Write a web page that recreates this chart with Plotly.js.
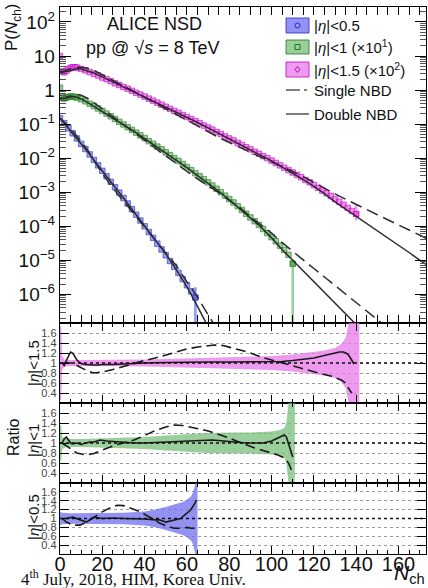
<!DOCTYPE html>
<html><head><meta charset="utf-8">
<script src="https://cdn.plot.ly/plotly-3.0.1.min.js"></script>
<style>html,body{margin:0;padding:0;background:#fff;}#chart{width:428px;height:588px;}</style>
</head><body><div id="chart"></div>
<script>
// ---------------- data: P(Nch) (as plotted, with legend scale factors) ----------------
const nEta05 = [0,2,4,6,8,10,12,14,16,18,20,22,24,26,28,30,32,34,36,38,40,42,44,46,48,50,52,54,56,58,60,62,64];
const pEta05 = [0.151,0.107,7.59e-2,5.37e-2,3.80e-2,2.63e-2,1.86e-2,1.29e-2,8.91e-3,6.17e-3,4.27e-3,2.95e-3,2.04e-3,1.41e-3,9.77e-4,6.76e-4,4.68e-4,3.16e-4,2.19e-4,1.48e-4,1.00e-4,6.76e-5,4.57e-5,3.09e-5,2.09e-5,1.41e-5,9.55e-6,6.46e-6,4.27e-6,2.82e-6,1.86e-6,1.23e-6,8.13e-7];

const nEta1 = [0,1,2,3,4,5,6,7,8,10,12,14,16,18,20,22,24,26,28,30,32,34,36,38,40,42,44,46,48,50,52,54,56,58,60,62,64,66,68,70,72,74,76,78,80,82,84,86,88,90,92,94,96,98,100,102,104,106,108,110];
const pEta1x10 = [1.17,0.631,0.562,0.603,0.631,0.646,0.646,0.631,0.603,0.537,0.468,0.398,0.339,0.288,0.245,0.204,0.170,0.141,0.117,9.77e-2,8.13e-2,6.76e-2,5.62e-2,4.68e-2,3.89e-2,3.16e-2,2.63e-2,2.19e-2,1.82e-2,1.48e-2,1.23e-2,1.00e-2,8.32e-3,6.76e-3,5.50e-3,4.47e-3,3.63e-3,2.95e-3,2.40e-3,1.95e-3,1.58e-3,1.26e-3,1.00e-3,7.94e-4,6.31e-4,5.01e-4,3.89e-4,3.02e-4,2.34e-4,1.82e-4,1.41e-4,1.10e-4,8.32e-5,6.31e-5,4.79e-5,3.63e-5,2.69e-5,2.00e-5,1.45e-5,7.94e-6];

const nEta15 = [0,1,2,3,4,5,6,7,8,10,12,14,16,18,20,22,24,26,28,30,32,34,36,38,40,42,44,46,48,50,52,54,56,58,60,62,64,66,68,70,72,74,76,78,80,82,84,86,88,90,92,94,96,98,100,102,104,106,108,110,112,114,116,118,120,122,124,126,128,130,132,134,136,138,140];
const pEta15x100 = [10,3.55,3.31,3.72,4.17,4.47,4.68,4.68,4.57,4.17,3.80,3.39,3.02,2.69,2.34,2.09,1.82,1.58,1.41,1.23,1.10,0.955,0.832,0.741,0.646,0.562,0.490,0.427,0.372,0.324,0.282,0.245,0.214,0.186,0.162,0.141,0.123,0.107,9.12e-2,7.94e-2,6.92e-2,5.89e-2,5.13e-2,4.37e-2,3.80e-2,3.31e-2,2.82e-2,2.45e-2,2.09e-2,1.82e-2,1.55e-2,1.35e-2,1.15e-2,1.00e-2,8.51e-3,7.24e-3,6.17e-3,5.25e-3,4.47e-3,3.80e-3,3.24e-3,2.75e-3,2.29e-3,1.95e-3,1.62e-3,1.35e-3,1.12e-3,9.33e-4,7.76e-4,6.31e-4,5.25e-4,4.27e-4,3.47e-4,2.82e-4,2.29e-4];

// last-point uncertainty (|eta|<0.5, <1, <1.5)
const endN = [64, 110, 140];
const endP = [8.13e-7, 7.94e-6, 2.29e-4];
const endErrUp = [8.0e-7, 3.0e-6, 1.9e-4];
const endErrDown = [6.6e-7, 7.8e-6, 0.8e-4];

// ---------------- NBD fits ----------------
const fitN = [0,2,4,6,8,10,13,16,20,25,30,35,40,45,50,55,60,65,70,75,80,85,90,95,100,105,110,115,120,125,130,135,140,145,150,155,160,165,170,173];
const singleEta15 = [3.16,3.63,4.07,4.47,4.68,4.68,4.37,3.80,2.82,1.95,1.32,0.891,0.617,0.417,0.282,0.186,0.126,8.71e-2,5.89e-2,4.07e-2,2.88e-2,2.09e-2,1.51e-2,1.12e-2,8.13e-3,5.75e-3,4.07e-3,2.88e-3,2.00e-3,1.32e-3,8.91e-4,6.17e-4,4.37e-4,3.09e-4,2.19e-4,1.55e-4,1.10e-4,7.76e-5,5.50e-5,4.47e-5];
const doubleEta15 = [3.55,3.47,3.63,3.98,4.27,4.17,3.72,3.16,2.45,1.74,1.26,0.891,0.646,0.457,0.324,0.224,0.158,0.112,7.76e-2,5.37e-2,3.72e-2,2.57e-2,1.78e-2,1.23e-2,8.32e-3,5.50e-3,3.63e-3,2.34e-3,1.48e-3,9.12e-4,5.25e-4,3.24e-4,2.00e-4,1.23e-4,7.41e-5,4.57e-5,2.75e-5,1.70e-5,1.02e-5,7.59e-6];
const singleEta1 = [0.562,0.603,0.676,0.724,0.741,0.708,0.575,0.427,0.288,0.166,9.77e-2,5.75e-2,3.31e-2,1.91e-2,1.12e-2,6.76e-3,4.07e-3,2.45e-3,1.58e-3,9.77e-4,5.75e-4,3.55e-4,1.91e-4,1.10e-4,6.31e-5,3.31e-5,1.82e-5,1.02e-5,5.75e-6,3.24e-6,1.82e-6,1.02e-6,5.75e-7,3.24e-7,1.82e-7,1.02e-7];
const doubleEta1 = [0.562,0.562,0.603,0.646,0.617,0.550,0.437,0.331,0.234,0.151,9.55e-2,6.17e-2,3.80e-2,2.34e-2,1.45e-2,8.71e-3,5.25e-3,3.09e-3,1.86e-3,1.07e-3,6.03e-4,3.31e-4,1.78e-4,9.55e-5,4.57e-5,2.04e-5,1.00e-5,4.90e-6,2.34e-6,1.15e-6,5.50e-7,2.69e-7,1.29e-7,6.31e-8];
const singleEta05 = [0.151,0.117,8.71e-2,6.31e-2,4.47e-2,3.09e-2,1.74e-2,8.71e-3,3.55e-3,1.32e-3,5.50e-4,2.29e-4,9.55e-5,4.07e-5,1.74e-5,6.92e-6,2.34e-6,8.32e-7,2.51e-7,7.94e-8];
const doubleEta05 = [0.151,0.110,7.59e-2,5.25e-2,3.72e-2,2.69e-2,1.58e-2,8.71e-3,4.27e-3,1.70e-3,6.76e-4,2.63e-4,1.00e-4,3.80e-5,1.55e-5,5.25e-6,1.66e-6,4.47e-7,1.12e-7];

// ---------------- ratios data / fit ----------------
const rDblN15 = [1,2,3,4,5,6,7,8,9,10,12,14,16,18,20,25,30,35,40,50,60,70,80,90,100,105,110,115,120,125,128,130,132,134,136,137,138,139];
const rDbl15 = [1.0,0.95,1.05,1.15,1.22,1.2,1.12,1.06,1.02,0.99,0.97,0.96,0.96,0.96,0.97,0.97,0.98,1.0,1.0,1.01,1.02,1.02,1.02,1.02,1.03,1.03,1.05,1.07,1.1,1.15,1.18,1.2,1.22,1.22,1.18,1.12,1.04,0.98];
const rSglN15 = [1,3,6,8,10,13,16,20,25,30,35,40,45,50,54,60,65,70,73,77,82,86,90,95,100,104,108,112,116,120,124,128,131,133,135,136,137,138];
const rSgl15 = [1.0,1.0,1.0,0.95,0.9,0.84,0.8,0.82,0.87,0.93,1.0,1.05,1.1,1.16,1.22,1.28,1.32,1.35,1.36,1.35,1.3,1.25,1.2,1.12,1.06,1.02,0.97,0.92,0.87,0.82,0.78,0.74,0.7,0.66,0.6,0.52,0.45,0.4];
const bandN15 = [0,0.6,1,2,5,10,20,30,40,50,60,70,80,90,100,110,120,125,130,133,135,136.5,138,140,141.5];
const bandErr15 = [0.75,0.75,0.15,0.07,0.06,0.06,0.07,0.07,0.07,0.08,0.09,0.1,0.11,0.12,0.14,0.17,0.22,0.25,0.3,0.38,0.5,0.8,0.8,0.8,0.8];

const rDblN1 = [1,2,3,4,5,6,8,10,12,14,16,19,22,25,30,35,40,50,60,72,80,88,96,100,102,104,106,107,108,109,110];
const rDbl1 = [1.0,1.08,1.12,1.05,1.0,0.98,1.0,0.97,1.0,1.02,1.02,1.06,1.04,1.03,1.01,1.0,1.0,1.02,1.04,1.06,1.03,1.0,1.0,1.04,1.08,1.12,1.16,1.12,1.0,0.85,0.72];
const rSglN1 = [1,4,8,12.5,16,20,23.5,27,30,35,40,45,50,54,58,62,66,70,73,77,80,84,88,92,96,100,103,106,108,109,110];
const rSgl1 = [1.0,0.92,0.8,0.76,0.79,0.86,0.92,0.97,1.0,1.06,1.15,1.25,1.32,1.36,1.35,1.32,1.28,1.24,1.2,1.14,1.1,1.03,0.96,0.9,0.85,0.8,0.76,0.7,0.6,0.5,0.4];
const bandN1 = [0,0.6,1,3,10,20,30,40,50,60,70,80,90,100,104,106,107,108,109,110,111];
const bandErr1 = [0.35,0.35,0.12,0.08,0.08,0.09,0.1,0.12,0.15,0.18,0.2,0.21,0.21,0.23,0.26,0.3,0.4,0.8,0.8,0.8,0.8];

const rDblN05 = [1,3,6,8,10,12.5,14,16,20,25,30,35,40,45,47,50,53,57,59,61.5,63,64.6];
const rDbl05 = [1.0,1.0,1.03,1.0,0.97,0.92,0.97,1.03,1.0,1.01,1.0,1.0,0.99,0.97,0.97,0.92,0.95,1.0,1.08,1.18,1.28,1.42];
const rSglN05 = [1,3,6,9.5,13,16,20,24,27,30,34,38,42,47,50,54,57,60,62,64.6];
const rSgl05 = [1.0,0.92,0.85,0.85,0.93,1.03,1.15,1.25,1.3,1.29,1.22,1.15,1.04,0.9,0.84,0.78,0.78,0.8,0.78,0.78];
const bandN05 = [0,1,5,10,20,30,40,45,50,55,58,60,62,63,64,65];
const bandErr05 = [0.15,0.13,0.12,0.12,0.12,0.13,0.16,0.2,0.26,0.32,0.37,0.42,0.5,0.6,0.8,0.8];

// ---------------- tick labels ----------------
const logTickVals = [1e-6,1e-5,1e-4,1e-3,1e-2,1e-1,1,10,100];
const logTickText = ['10<sup>\u22126</sup>','10<sup>\u22125</sup>','10<sup>\u22124</sup>','10<sup>\u22123</sup>','10<sup>\u22122</sup>','10<sup>\u22121</sup>','1','10','10<sup>2</sup>'];
const ratioTickVals = [0.4,0.6,0.8,1.0,1.2,1.4,1.6];
const ratioTickText = ['0.4','0.6','0.8','1','1.2','1.4','1.6'];

// ---------------- styling ----------------
const FONT = 'Liberation Sans, Arial, Helvetica, sans-serif';
const colBlue = {fill:'rgba(95,95,235,0.6)', line:'#2a2acb', band:'rgba(110,110,238,0.75)'};
const colGreen = {fill:'rgba(70,160,70,0.55)', line:'#1f7a1f', band:'rgba(120,190,120,0.75)'};
const colMag = {fill:'rgba(232,70,232,0.6)', line:'#c400c4', band:'rgba(232,120,232,0.75)'};
const fitColor = '#2b2b2b';

const traces = [];
function dataTrace(x, y, c, sym){
  return {x:x, y:y, xaxis:'x', yaxis:'y', type:'scatter', mode:'markers', showlegend:false, hoverinfo:'skip',
    marker:{symbol:sym, size:5.5, color:c.fill, line:{color:c.line, width:0.6}}};
}
traces.push(dataTrace(nEta05, pEta05, colBlue, 'square'));
traces.push(dataTrace(nEta1, pEta1x10, colGreen, 'square'));
traces.push(dataTrace(nEta15, pEta15x100, colMag, 'square'));
[colBlue, colGreen, colMag].forEach((c,i)=>{
  traces.push({x:[endN[i]], y:[endP[i]], xaxis:'x', yaxis:'y', type:'scatter', mode:'markers', showlegend:false, hoverinfo:'skip',
    marker:{size:5, symbol:'square', color:c.fill, line:{color:c.line,width:0.6}},
    error_y:{type:'data', symmetric:false, array:[endErrUp[i]], arrayminus:[endErrDown[i]], color:c.band, thickness:2.5, width:0}});
});
function fitTrace(y, dash){
  return {x:fitN.slice(0, y.length), y:y, xaxis:'x', yaxis:'y', type:'scatter', mode:'lines', showlegend:false, hoverinfo:'skip',
    line:{color:fitColor, width:1.5, dash:dash}};
}
const DASH_TOP = '12px,6px';
traces.push(fitTrace(singleEta05, DASH_TOP));
traces.push(fitTrace(doubleEta05, 'solid'));
traces.push(fitTrace(singleEta1, DASH_TOP));
traces.push(fitTrace(doubleEta1, 'solid'));
traces.push(fitTrace(singleEta15, DASH_TOP));
traces.push(fitTrace(doubleEta15, 'solid'));
// carrier for the minor-tick overlay axis of the log panel (invisible)
traces.push({x:[1], y:[1], xaxis:'x', yaxis:'y5', type:'scatter', mode:'markers', marker:{opacity:0}, showlegend:false, hoverinfo:'skip'});

function ratioPanel(ax, bandN, bandErr, c, dN, dV, sN, sV){
  const xa = 'x'+ax, ya = 'y'+ax;
  traces.push({x:bandN, y:bandErr.map(e=>1+e), xaxis:xa, yaxis:ya, type:'scatter', mode:'lines', line:{width:0, color:c.band}, showlegend:false, hoverinfo:'skip'});
  traces.push({x:bandN, y:bandErr.map(e=>1-e), xaxis:xa, yaxis:ya, type:'scatter', mode:'lines', line:{width:0, color:c.band}, fill:'tonexty', fillcolor:c.band, showlegend:false, hoverinfo:'skip'});
  traces.push({x:sN, y:sV, xaxis:xa, yaxis:ya, type:'scatter', mode:'lines', line:{color:'#1a1a1a', width:1.6, dash:'10px,5px'}, showlegend:false, hoverinfo:'skip'});
  traces.push({x:dN, y:dV, xaxis:xa, yaxis:ya, type:'scatter', mode:'lines', line:{color:'#1a1a1a', width:1.6}, showlegend:false, hoverinfo:'skip'});
}
ratioPanel('2', bandN15, bandErr15, colMag, rDblN15, rDbl15, rSglN15, rSgl15);
ratioPanel('3', bandN1, bandErr1, colGreen, rDblN1, rDbl1, rSglN1, rSgl1);
ratioPanel('4', bandN05, bandErr05, colBlue, rDblN05, rDbl05, rSglN05, rSgl05);

// ---------------- layout ----------------
const minorLog = [];
for (let k=-7;k<=2;k++){ for (let m=2;m<=9;m++){ minorLog.push(m*Math.pow(10,k)); } }

function xAxis(anchor, showLabels){
  const a = {anchor:anchor, range:[0,173], showgrid:false, zeroline:false, showline:true, linecolor:'#000', linewidth:1.3,
    mirror:'allticks', ticks:'inside', ticklen:8, tickwidth:1, tickcolor:'#000', dtick:20, tick0:0,
    minor:{ticks:'inside', ticklen:4, dtick:5, tick0:0, tickcolor:'#000', showgrid:false},
    showticklabels:showLabels, tickfont:{family:FONT, size:20, color:'#111'}, ticklabelstandoff:-8};
  if (anchor !== 'y') a.matches = 'x';
  return a;
}
function ratioAxis(domain){
  return {domain:domain, range:[0.2,1.8], tickmode:'array', tickvals:ratioTickVals, ticktext:ratioTickText,
    showgrid:true, gridcolor:'#9a9a9a', griddash:'dot', gridwidth:1, zeroline:false, showline:true, linecolor:'#000', linewidth:1.3,
    mirror:'allticks', ticks:'inside', ticklen:9, tickcolor:'#000', tickfont:{family:FONT, size:11, color:'#444'}};
}
const H = 547, W = 366, L = 60, T = 7;
function px(xp){ return (xp - L)/W; }
function py(yp){ return (T + H - yp)/H; }

const logRange = [-6.84, 2.44];
const layout = {
  width:428, height:588, margin:{l:60, r:2, t:7, b:34}, paper_bgcolor:'#fff', plot_bgcolor:'#fff', showlegend:false,
  font:{family:FONT, color:'#111'},
  xaxis: xAxis('y', false),
  xaxis2: xAxis('y2', false),
  xaxis3: xAxis('y3', false),
  xaxis4: xAxis('y4', true),
  yaxis: {domain:[py(323),1], type:'log', range:logRange, tickmode:'array', tickvals:logTickVals, ticktext:logTickText,
    showgrid:false, zeroline:false, showline:true, linecolor:'#000', linewidth:1.3, mirror:'allticks',
    ticks:'inside', ticklen:11, tickcolor:'#000', tickfont:{family:FONT, size:19, color:'#111'}},
  yaxis5: {overlaying:'y', anchor:'x', side:'left', type:'log', range:logRange, tickmode:'array', tickvals:minorLog,
    showticklabels:false, showgrid:false, zeroline:false, showline:false, mirror:'ticks', ticks:'inside', ticklen:6, tickcolor:'#555', tickwidth:1},
  yaxis2: ratioAxis([py(403), py(323)]),
  yaxis3: ratioAxis([py(483), py(403)]),
  yaxis4: ratioAxis([0, py(483)]),
  shapes: [],
  annotations: []
};
// dotted unity lines
['y2','y3','y4'].forEach(ya=>{
  layout.shapes.push({type:'line', xref:'paper', x0:0, x1:1, yref:ya, y0:1, y1:1, line:{color:'#111', width:1.6, dash:'dot'}});
});
// legend swatches
const legRows = [{y0:18,y1:33,c:colBlue,sym:'circle'},{y0:40,y1:54,c:colGreen,sym:'square'},{y0:62,y1:77,c:colMag,sym:'diamond'}];
legRows.forEach(r=>{
  layout.shapes.push({type:'rect', xref:'paper', yref:'paper', x0:px(286), x1:px(309), y0:py(r.y1), y1:py(r.y0),
    fillcolor:r.c.band, line:{color:r.c.line, width:0.8}});
  const cy = (r.y0+r.y1)/2;
  if (r.sym==='circle') layout.shapes.push({type:'circle', xref:'paper', yref:'paper', x0:px(295), x1:px(300), y0:py(cy+2.5), y1:py(cy-2.5), line:{color:r.c.line,width:1}});
  if (r.sym==='square') layout.shapes.push({type:'rect', xref:'paper', yref:'paper', x0:px(295), x1:px(300), y0:py(cy+2.5), y1:py(cy-2.5), line:{color:r.c.line,width:1}});
  if (r.sym==='diamond') layout.shapes.push({type:'path', xref:'paper', yref:'paper',
    path:`M ${px(297.5)} ${py(cy-3)} L ${px(300)} ${py(cy)} L ${px(297.5)} ${py(cy+3)} L ${px(295)} ${py(cy)} Z`, line:{color:r.c.line,width:1}});
});
layout.shapes.push({type:'line', xref:'paper', yref:'paper', x0:px(286), x1:px(300), y0:py(90), y1:py(90), line:{color:'#555', width:1.5}});
layout.shapes.push({type:'line', xref:'paper', yref:'paper', x0:px(304), x1:px(307), y0:py(90), y1:py(90), line:{color:'#555', width:1.5}});
layout.shapes.push({type:'line', xref:'paper', yref:'paper', x0:px(286), x1:px(309), y0:py(114), y1:py(114), line:{color:'#555', width:1.5}});

function ann(text, xp, yp, size, opts){
  return Object.assign({text:text, xref:'paper', yref:'paper', x:px(xp), y:py(yp), showarrow:false, xanchor:'center', yanchor:'middle',
    font:{family:FONT, size:size, color:'#111'}}, opts||{});
}
const A = layout.annotations;
A.push(ann('P(<i>N</i><sub>ch</sub>)', 13, 27, 17, {textangle:-90}));
A.push(ann('Ratio', 13, 438, 16, {textangle:-90}));
A.push(ann('|<i>\u03b7</i>|&lt;1.5', 33, 363, 15, {textangle:-90}));
A.push(ann('|<i>\u03b7</i>|&lt;1', 33, 441, 15, {textangle:-90}));
A.push(ann('|<i>\u03b7</i>|&lt;0.5', 33, 517, 15, {textangle:-90}));
A.push(ann('ALICE NSD', 154, 24, 18));
A.push(ann('pp @ \u221a<i>s</i> = 8 TeV', 152, 48, 18));
A.push(ann('|<i>\u03b7</i>|&lt;0.5', 312, 26, 15, {xanchor:'left'}));
A.push(ann('|<i>\u03b7</i>|&lt;1 (\u00d710<sup>1</sup>)', 312, 47, 15, {xanchor:'left'}));
A.push(ann('|<i>\u03b7</i>|&lt;1.5 (\u00d710<sup>2</sup>)', 312, 69, 15, {xanchor:'left'}));
A.push(ann('Single NBD', 312, 90, 15, {xanchor:'left'}));
A.push(ann('Double NBD', 312, 114, 15, {xanchor:'left'}));
A.push(ann('<i>N</i><sub>ch</sub>', 427, 574, 21, {xanchor:'right'}));
A.push(ann('4<sup>th</sup> July, 2018, HIM, Korea Univ.', 19, 578, 17, {xanchor:'left', font:{family:'Liberation Serif, Times New Roman, serif', size:17, color:'#111'}}));

Plotly.newPlot('chart', traces, layout, {staticPlot:true, displayModeBar:false});
</script></body></html>
